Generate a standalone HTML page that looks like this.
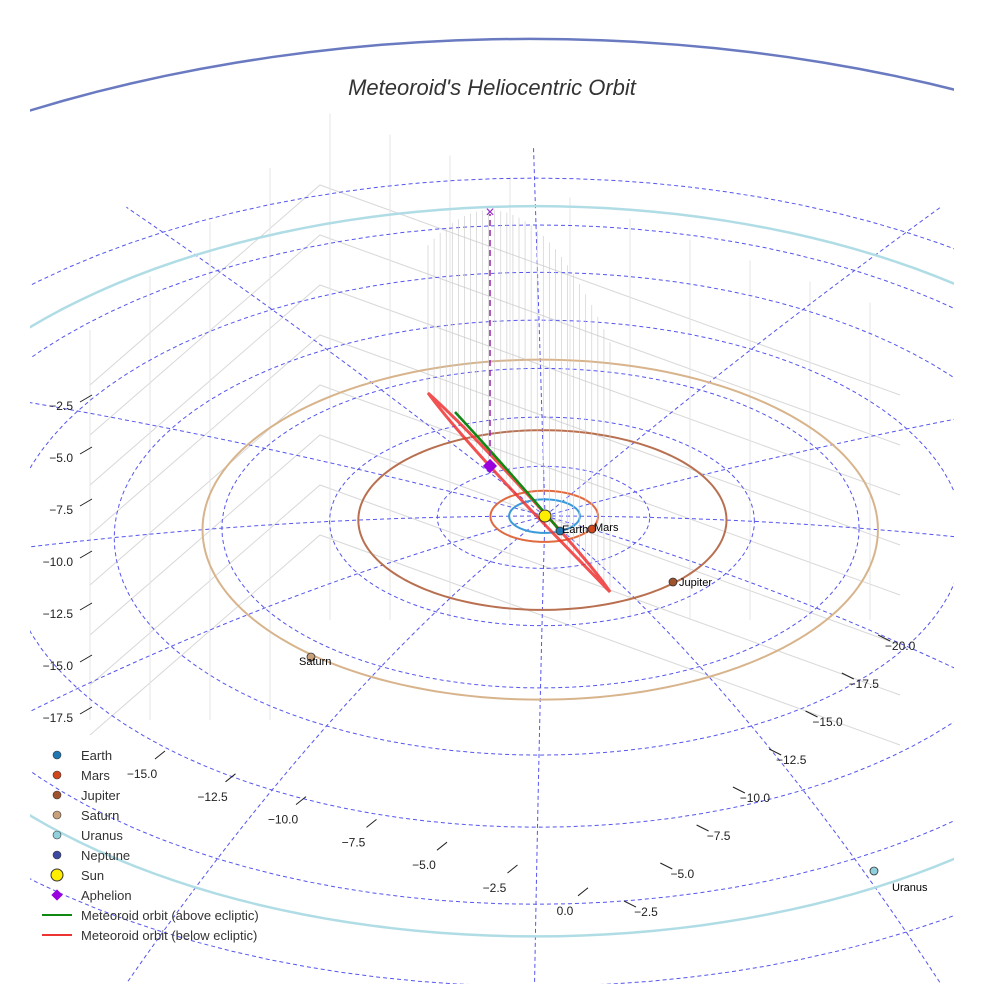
<!DOCTYPE html>
<html><head><meta charset="utf-8"><style>
body{margin:0;background:#fff;overflow:hidden}
svg{font-family:"Liberation Sans",sans-serif;display:block}
</style></head><body>
<svg id="c" width="984" height="984" viewBox="0 0 984 984">
<defs><clipPath id="clip"><rect x="30" y="0" width="924" height="984"/></clipPath></defs>
<g id="grid" clip-path="url(#clip)"></g>
<text x="492" y="95" text-anchor="middle" font-size="22" font-style="italic" fill="#333">Meteoroid's Heliocentric Orbit</text>
<g id="ticks"></g>
<g id="legend"></g>
</svg>
<script>
const planetNames=["Earth","Mars","Jupiter","Saturn","Uranus","Neptune"];
const planetRadii=[1.0,1.52,5.2,9.54,19.2,30.1];
const planetColors=["#1f77b4","#d2461c","#a0522d","#c8a07a","#8fd0dc","#3b4aa0"];
const orbitColors=["#3a9ad9","#e06a40","#b87050","#d8b48c","#b0dde5","#6a7ac0"];
const leftTicks=["−2.5","−5.0","−7.5","−10.0","−12.5","−15.0","−17.5"];
const bottomTicks=["−15.0","−12.5","−10.0","−7.5","−5.0","−2.5","0.0"];
const rightTicks=["−2.5","−5.0","−7.5","−10.0","−12.5","−15.0","−17.5","−20.0"];
const NS="http://www.w3.org/2000/svg";
function mk(tag,attrs,parent){const e=document.createElementNS(NS,tag);for(const k in attrs)e.setAttribute(k,attrs[k]);parent.appendChild(e);return e;}
function cx(r){return 545-0.5*r;}
function cy(r){return 516+0.15*r*r;}
function rx(r){return 35.4*r;}
function ry(r){return rx(r)*(0.47+0.0035*r);}
function P(r,deg){const t=deg*Math.PI/180;return [cx(r)+rx(r)*Math.cos(t),cy(r)-ry(r)*Math.sin(t)];}
const g=document.getElementById('grid');
// faint 3D box grid
for(let i=0;i<8;i++){
 const y=185+i*50;
 const l=mk('polyline',{points:`${90},${y+200} 320,${y} 900,${y+210}`,fill:'none',stroke:'#d8d8d8','stroke-width':1},g);
 
 
}
for(let i=0;i<14;i++){
 const x=90+i*60;
 const l=mk('line',{x1:x,y1:x<320?330-(x-90)*0.9:110+(x-320)*0.35,x2:x,y2:x<320?720:620,stroke:'#e4e4e4','stroke-width':1},g);
 
 
}
// dashed polar rings
for(let r=3;r<=21;r+=3){
 let pts=[];for(let a=0;a<=360;a+=3){pts.push(P(r,a).join(','));}
 const e=mk('polyline',{points:pts.join(' '),fill:'none',stroke:'#5555ee','stroke-width':1,'stroke-dasharray':'4,3'},g);
 
 
}
for(let a=0;a<360;a+=30){
 let pts=[];for(let r=0;r<=23;r+=1){pts.push(P(r,a).join(','));}
 const e=mk('polyline',{points:pts.join(' '),fill:'none',stroke:'#5555ee','stroke-width':1,'stroke-dasharray':'4,3'},g);
 
 
}
// planet orbits
planetRadii.forEach((r,i)=>{
 let pts=[];for(let a=0;a<=360;a+=2){pts.push(P(r,a).join(','));}
 const e=mk('polyline',{points:pts.join(' '),fill:'none',stroke:orbitColors[i],'stroke-width':i>=4?2.5:2},g);
 
 
});
// stems
const A=[428,393],B=[610,592];
for(let k=0;k<=30;k++){
 const t=k/30;const x=A[0]+(B[0]-A[0])*t, y=A[1]+(B[1]-A[1])*t;
 const top=210+Math.pow((x-490)/140,2)*180;
 if(top<y){const s=mk('line',{x1:x,y1:y,x2:x,y2:top,stroke:'#c8c8c8','stroke-width':0.6},g);
 
 }
}
// meteoroid orbit
const red=mk('path',{d:'M428,393 C470,450 560,540 610,592 C590,560 480,440 428,393 Z',fill:'none',stroke:'#ee3333','stroke-width':3,'stroke-opacity':0.85},g);


const grn=mk('path',{d:'M455,412 C490,450 530,495 560,531',fill:'none',stroke:'#118811','stroke-width':2.5},g);


mk('line',{x1:490,y1:466,x2:490,y2:214,stroke:'#9922aa','stroke-width':1.5,'stroke-dasharray':'6,4'},g);
const xm=mk('text',{x:490,y:217,'text-anchor':'middle','font-size':16,fill:'#9922cc'},g);xm.textContent='×';


const dia=mk('rect',{x:485,y:461,width:10,height:10,fill:'#9900dd',transform:'rotate(45 490 466)'},g);


const sun=mk('circle',{cx:545,cy:516,r:6,fill:'#ffee00',stroke:'#333'},g);


const planetPos=[[560,531],[592,529],[673,582],[311,657],[874,871]];
planetPos.forEach((p,i)=>{
 const c=mk('circle',{cx:p[0],cy:p[1],r:4,fill:planetColors[i],stroke:'#333','stroke-width':0.8},g);
 
 
 const off=[[2,2],[2,2],[6,4],[-12,8],[18,20]][i];
 const t=mk('text',{x:p[0]+off[0],y:p[1]+off[1],'font-size':11,fill:'#000'},g);t.textContent=planetNames[i];
 
 
});
// ticks
const tk=document.getElementById('ticks');
leftTicks.forEach((s,i)=>{const y=405+i*52;
 mk('line',{x1:80,y1:y-3,x2:92,y2:y-10,stroke:'#222'},tk);
 const t=mk('text',{x:73,y:y+5,'font-size':12,'text-anchor':'end',fill:'#222'},tk);t.textContent=s;
 
 });
bottomTicks.forEach((s,i)=>{const x=142+i*70.5,y=773+i*22.8;
 mk('line',{x1:x+13,y1:y-14,x2:x+23,y2:y-22,stroke:'#222'},tk);
 const t=mk('text',{x:x,y:y+5,'font-size':12,'text-anchor':'middle',fill:'#222'},tk);t.textContent=s;
 
 });
rightTicks.forEach((s,i)=>{const x=646+i*36.3,y=911-i*38;
 mk('line',{x1:x-22,y1:y-10,x2:x-10,y2:y-4,stroke:'#222'},tk);
 const t=mk('text',{x:x,y:y+5,'font-size':12,'text-anchor':'middle',fill:'#222'},tk);t.textContent=s;
 
 });
// legend
const lg=document.getElementById('legend');
const legItems=["Earth","Mars","Jupiter","Saturn","Uranus","Neptune","Sun","Aphelion","Meteoroid orbit (above ecliptic)","Meteoroid orbit (below ecliptic)"];
const legColors=["#1f77b4","#d2461c","#a0522d","#c8a07a","#8fd0dc","#3b4aa0","#ffee00","#9900dd","#118811","#ee3333"];
legItems.forEach((s,i)=>{const y=755+i*20;
 let m;
 if(i<6)m=mk('circle',{cx:57,cy:y,r:4,fill:legColors[i],stroke:'#333','stroke-width':0.6},lg);
 else if(i==6)m=mk('circle',{cx:57,cy:y,r:6,fill:legColors[i],stroke:'#333'},lg);
 else if(i==7)m=mk('rect',{x:53,y:y-4,width:8,height:8,fill:legColors[i],transform:`rotate(45 57 ${y})`},lg);
 else m=mk('line',{x1:42,y1:y,x2:72,y2:y,stroke:legColors[i],'stroke-width':2},lg);
 
 
 const t=mk('text',{x:81,y:y+5,'font-size':13,fill:'#333'},lg);t.textContent=s;
 
 
});
</script>
</body></html>
